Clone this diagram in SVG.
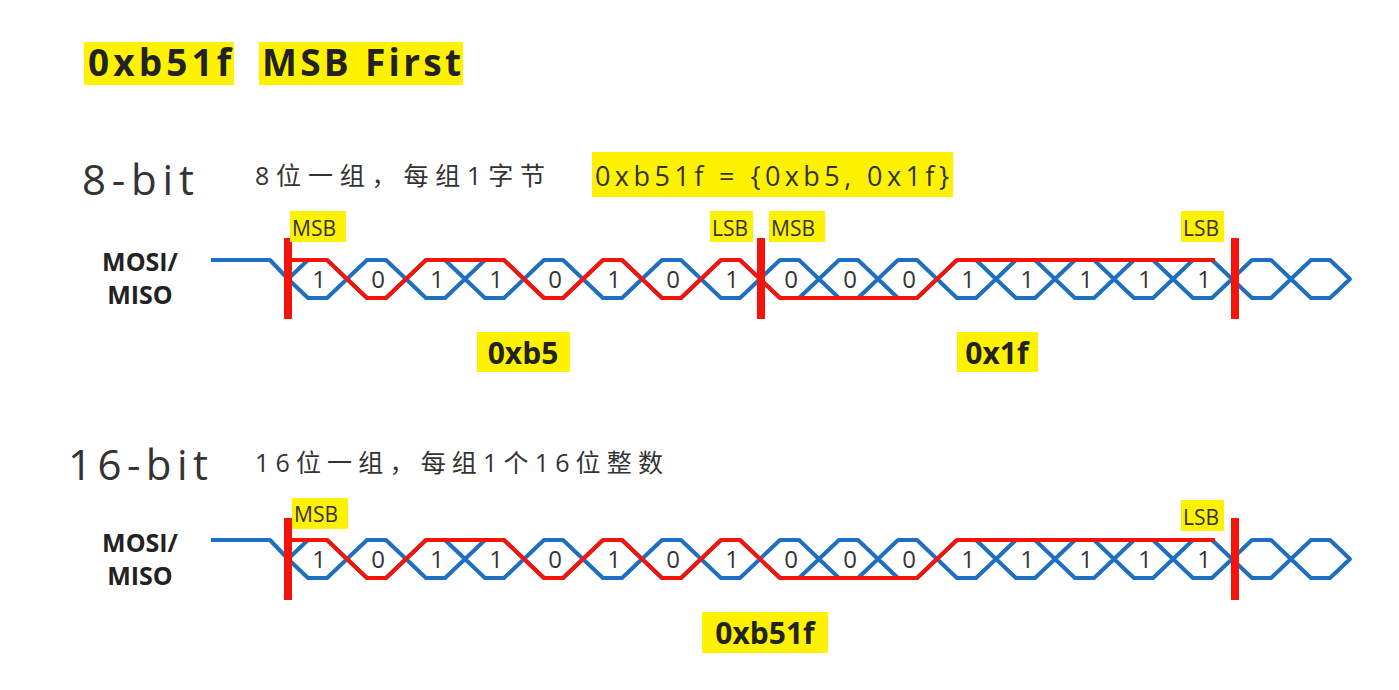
<svg xmlns="http://www.w3.org/2000/svg" width="1399" height="690" viewBox="0 0 1399 690">
<style>
text{font-family:"Open Sans","Noto Sans CJK SC",sans-serif;fill:#333}
.hl{fill:#fff200}
.b{font-weight:bold;fill:#222}
.blue{fill:none;stroke:#1f6fc0;stroke-width:4;stroke-linejoin:round}
.red{fill:none;stroke:#f5140a;stroke-width:4;stroke-linejoin:round}
.bar{fill:#f5140a}
.bit{font-family:"Open Sans","Noto Sans",sans-serif;font-size:24px;fill:#444;text-anchor:middle}
.tag{font-size:21px;fill:#333}
</style>
<defs>
<path id="hex" d="M0,0 L20,-19 L39,-19 L59,0 L39,19 L20,19 Z" class="blue"/>
<g id="wave">
<path class="blue" d="M211,-19 L270,-19 L288,0"/>
<use href="#hex" x="288"/><use href="#hex" x="347"/><use href="#hex" x="406"/><use href="#hex" x="465"/><use href="#hex" x="524"/><use href="#hex" x="583"/><use href="#hex" x="642"/><use href="#hex" x="701"/><use href="#hex" x="760"/><use href="#hex" x="819"/><use href="#hex" x="878"/><use href="#hex" x="937"/><use href="#hex" x="996"/><use href="#hex" x="1055"/><use href="#hex" x="1114"/><use href="#hex" x="1173"/><use href="#hex" x="1232"/><use href="#hex" x="1291"/>
<path class="red" d="M288,-19 L327,-19 L367,19 L386,19 L426,-19 L504,-19 L544,19 L563,19 L603,-19 L622,-19 L662,19 L681,19 L721,-19 L740,-19 L780,19 L917,19 L957,-19 L1215,-19"/>
<g class="bit">
<text x="319" y="9">1</text><text x="378" y="9">0</text><text x="437" y="9">1</text><text x="496" y="9">1</text><text x="555" y="9">0</text><text x="614" y="9">1</text><text x="673" y="9">0</text><text x="732" y="9">1</text><text x="791" y="9">0</text><text x="850" y="9">0</text><text x="909" y="9">0</text><text x="968" y="9">1</text><text x="1027" y="9">1</text><text x="1086" y="9">1</text><text x="1145" y="9">1</text><text x="1204" y="9">1</text>
</g>
</g>
</defs>
<g id="title">
<rect class="hl" x="84" y="42" width="150" height="43"/>
<rect class="hl" x="259" y="42" width="204" height="43"/>
<text class="b" x="88" y="76" font-size="37" textLength="143">0xb51f</text>
<text class="b" x="262" y="76" font-size="37" textLength="199">MSB First</text>
</g>
<g id="row8">
<text x="82" y="195" font-size="42" fill="#444" textLength="112">8-bit</text>
<text x="255" y="185" font-size="25" textLength="290">8位一组，每组1字节</text>
<rect class="hl" x="592" y="152" width="361" height="45"/>
<text x="595" y="186" font-size="27" textLength="354">0xb51f = {0xb5, 0x1f}</text>
<text class="b" x="140" y="271" font-size="25" text-anchor="middle">MOSI/</text>
<text class="b" x="140" y="304" font-size="25" text-anchor="middle">MISO</text>
<use href="#wave" y="279"/>
<rect class="bar" x="284" y="238" width="8" height="81"/>
<rect class="bar" x="757" y="238" width="8" height="81"/>
<rect class="bar" x="1231" y="238" width="8" height="81"/>
<rect class="hl" x="290" y="211" width="56" height="31"/><text class="tag" x="292" y="236">MSB</text>
<rect class="hl" x="710" y="211" width="43" height="31"/><text class="tag" x="712" y="236">LSB</text>
<rect class="hl" x="769" y="211" width="56" height="31"/><text class="tag" x="771" y="236">MSB</text>
<rect class="hl" x="1181" y="211" width="43" height="31"/><text class="tag" x="1183" y="236">LSB</text>
<rect class="hl" x="477" y="332" width="93" height="40"/>
<text class="b" x="523" y="364" font-size="30" text-anchor="middle">0xb5</text>
<rect class="hl" x="957" y="332" width="81" height="40"/>
<text class="b" x="997" y="364" font-size="30" text-anchor="middle">0x1f</text>
</g>
<g id="row16">
<text x="68" y="480" font-size="42" fill="#444" textLength="140">16-bit</text>
<text x="255" y="472" font-size="25" textLength="408">16位一组，每组1个16位整数</text>
<text class="b" x="140" y="552" font-size="25" text-anchor="middle">MOSI/</text>
<text class="b" x="140" y="585" font-size="25" text-anchor="middle">MISO</text>
<use href="#wave" y="559"/>
<rect class="bar" x="284" y="518" width="8" height="82"/>
<rect class="bar" x="1231" y="518" width="8" height="82"/>
<rect class="hl" x="292" y="498" width="56" height="31"/><text class="tag" x="294" y="522">MSB</text>
<rect class="hl" x="1181" y="500" width="43" height="31"/><text class="tag" x="1183" y="525">LSB</text>
<rect class="hl" x="702" y="612" width="126" height="41"/>
<text class="b" x="765" y="644" font-size="30" text-anchor="middle">0xb51f</text>
</g>
</svg>
